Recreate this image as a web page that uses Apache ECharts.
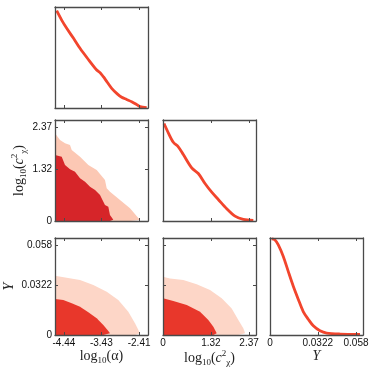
<!DOCTYPE html>
<html><head><meta charset="utf-8">
<script src="https://cdn.jsdelivr.net/npm/echarts@6/dist/echarts.min.js"></script>
<style>html,body{margin:0;padding:0;background:#fff}#c{width:374px;height:374px}</style>
</head><body><div id="c"></div>
<script>
// ---- axis ranges & ticks ----
const alphaRange = [-4.68, -2.17];
const cRange = [0, 2.56];
const yRange = [0, 0.0627];
const alphaTicks = [-4.44, -3.43, -2.41];
const cTicks = [0, 1.32, 2.37];
const yTicks = [0, 0.0322, 0.058];

// ---- 1D marginals (normalised) ----
const alphaPdfX = [-4.634, -4.50, -4.364, -4.18, -4.005, -3.80, -3.555, -3.45, -3.376, -3.26, -3.150, -3.00, -2.880, -2.75, -2.610, -2.50, -2.386, -2.205];
const alphaPdfY = [0.963, 0.870, 0.789, 0.690, 0.591, 0.490, 0.376, 0.345, 0.310, 0.250, 0.195, 0.140, 0.106, 0.085, 0.063, 0.040, 0.013, 0.003];
const cPdfX = [0.028, 0.146, 0.284, 0.421, 0.559, 0.790, 0.972, 1.156, 1.341, 1.522, 1.754, 1.982, 2.211, 2.486];
const cPdfY = [0.965, 0.873, 0.780, 0.735, 0.658, 0.526, 0.470, 0.371, 0.285, 0.213, 0.121, 0.048, 0.015, 0.005];
const yPdfX = [0.00115, 0.00337, 0.0056, 0.00897, 0.0123, 0.0157, 0.0191, 0.0224, 0.0258, 0.0292, 0.0337, 0.0382, 0.0472, 0.0607];
const yPdfY = [0.990, 0.980, 0.929, 0.810, 0.656, 0.503, 0.367, 0.242, 0.163, 0.095, 0.044, 0.020, 0.010, 0.007];

// ---- 2D credible regions: upper boundaries ----
// alpha vs c
const acOuterX = [-4.68, -4.545, -4.410, -4.275, -4.229, -4.005, -3.781, -3.555, -3.331, -3.285, -3.196, -2.926, -2.656, -2.386, -2.38];
const acOuterY = [2.223, 2.053, 1.970, 1.927, 1.800, 1.630, 1.420, 1.293, 1.039, 0.829, 0.743, 0.532, 0.322, 0.025, 0];
const acInnerX = [-4.68, -4.499, -4.410, -4.275, -4.140, -4.005, -3.870, -3.735, -3.600, -3.465, -3.331, -3.241, -3.196, -3.106, -3.10];
const acInnerY = [1.673, 1.630, 1.420, 1.311, 1.250, 1.082, 0.996, 0.870, 0.786, 0.659, 0.406, 0.363, 0.152, 0.033, 0];
// alpha vs Y
const ayOuterX = [-4.68, -4.365, -4.005, -3.646, -3.285, -2.972, -2.702, -2.521, -2.386, -2.38];
const ayOuterY = [0.0383, 0.0370, 0.0355, 0.0323, 0.0280, 0.0226, 0.0151, 0.0076, 0.0011, 0];
const ayInnerX = [-4.68, -4.456, -4.229, -4.005, -3.781, -3.555, -3.376, -3.241, -3.196, -3.19];
const ayInnerY = [0.0233, 0.0226, 0.0205, 0.0183, 0.0147, 0.0108, 0.0065, 0.0026, 0.0011, 0];
// c vs Y
const cyOuterX = [0, 0.193, 0.559, 0.927, 1.294, 1.616, 1.891, 2.074, 2.211, 2.26, 2.27];
const cyOuterY = [0.0377, 0.0366, 0.0355, 0.0328, 0.0291, 0.0237, 0.0172, 0.0097, 0.0043, 0.0011, 0];
const cyInnerX = [0, 0.284, 0.653, 1.019, 1.248, 1.386, 1.478, 1.49];
const cyInnerY = [0.0237, 0.0220, 0.0194, 0.0151, 0.0097, 0.0054, 0.0011, 0];

const zip = (a, b) => a.map((v, i) => [v, b[i]]);

const colL = [55, 163, 270], colW = 93;
const rowT = [7, 120, 238], rowH = [101, 101, 97];

const FRAME = '#4a4a4a';
const lblStyle = {fontFamily: 'Liberation Sans', fontSize: 10, color: '#111', margin: 3};
const serif = 'Liberation Serif';
const nameRich = {
  b: {fontFamily: serif, fontSize: 14, color: '#222', lineHeight: 18, verticalAlign: 'middle'},
  i: {fontFamily: serif, fontSize: 14, color: '#222', fontStyle: 'italic', lineHeight: 18, verticalAlign: 'middle'},
  sub: {fontFamily: serif, fontSize: 9, color: '#222', lineHeight: 18, verticalAlign: 'bottom'},
  sup: {fontFamily: serif, fontSize: 9, color: '#222', lineHeight: 18, verticalAlign: 'top'},
};
const NAME_ALPHA = '{b|log}{sub|10}{b|(α)}';
const NAME_C = '{b|log}{sub|10}{b|(}{i|c}{sup|2}{sub|χ}{b|)}';
const NAME_Y = '{i|Y}';

const grids = [], xAxes = [], yAxes = [], series = [];

function fmt(v) { return String(v); }

function addPanel(row, col, xr, xt, yr, yt, opts) {
  const gi = grids.length;
  grids.push({left: colL[col], top: rowT[row], width: colW, height: rowH[row], containLabel: false});
  const tick = (vals) => ({show: !!vals, inside: true, length: 3, lineStyle: {color: FRAME, width: 1}, customValues: vals || undefined});
  const base = {gridIndex: gi, type: 'value', splitLine: {show: false}, z: 10,
    axisLine: {show: true, onZero: false, lineStyle: {color: FRAME, width: 1.3}}};
  xAxes.push(Object.assign({}, base, {min: xr[0], max: xr[1], position: 'bottom',
    axisTick: tick(xt),
    axisLabel: opts.xLabels ? Object.assign({show: true, customValues: xt, formatter: fmt}, lblStyle) : {show: false},
    name: opts.xName || '', nameLocation: 'middle', nameGap: 9,
    nameTextStyle: {rich: nameRich}}));
  xAxes.push(Object.assign({}, base, {min: xr[0], max: xr[1], position: 'top',
    axisTick: tick(xt), axisLabel: {show: false}}));
  yAxes.push(Object.assign({}, base, {min: yr[0], max: yr[1], position: 'left',
    axisTick: tick(yt),
    axisLabel: opts.yLabels ? Object.assign({show: true, customValues: yt, formatter: fmt}, lblStyle) : {show: false},
    name: opts.yName || '', nameLocation: 'middle', nameGap: opts.yGap || 28, nameRotate: 90,
    nameTextStyle: {rich: nameRich}}));
  yAxes.push(Object.assign({}, base, {min: yr[0], max: yr[1], position: 'right',
    axisTick: tick(yt), axisLabel: {show: false}}));
  return {xi: xAxes.length - 2, yi: yAxes.length - 2};
}

function curve(p, x, y) {
  series.push({type: 'line', xAxisIndex: p.xi, yAxisIndex: p.yi, data: zip(x, y),
    symbol: 'none', smooth: 0.3, lineStyle: {color: '#F2452D', width: 2.8}, z: 3});
}
function region(p, x, y, color) {
  series.push({type: 'line', xAxisIndex: p.xi, yAxisIndex: p.yi, data: zip(x, y),
    symbol: 'none', lineStyle: {width: 0}, areaStyle: {color: color, opacity: 1, origin: 'start'}, z: 2});
}

const pdfR = [0, 1.0];
const p00 = addPanel(0, 0, alphaRange, alphaTicks, pdfR, null, {});
curve(p00, alphaPdfX, alphaPdfY);

const p10 = addPanel(1, 0, alphaRange, alphaTicks, cRange, cTicks, {yLabels: true, yName: NAME_C, yGap: 24});
region(p10, acOuterX, acOuterY, '#FCC8B4');
region(p10, acInnerX, acInnerY, '#D62529');

const p11 = addPanel(1, 1, cRange, cTicks, pdfR, null, {});
curve(p11, cPdfX, cPdfY);

const p20 = addPanel(2, 0, alphaRange, alphaTicks, yRange, yTicks, {xLabels: true, yLabels: true, xName: NAME_ALPHA, yName: NAME_Y, yGap: 37});
region(p20, ayOuterX, ayOuterY, '#FDD6C7');
region(p20, ayInnerX, ayInnerY, '#E8372B');

const p21 = addPanel(2, 1, cRange, cTicks, yRange, yTicks, {xLabels: true, xName: NAME_C});
region(p21, cyOuterX, cyOuterY, '#FDD6C7');
region(p21, cyInnerX, cyInnerY, '#E8372B');

const p22 = addPanel(2, 2, yRange, yTicks, pdfR, null, {xLabels: true, xName: NAME_Y});
curve(p22, yPdfX, yPdfY);

const chart = echarts.init(document.getElementById('c'), null, {renderer: 'canvas'});
chart.setOption({animation: false, backgroundColor: '#fff', grid: grids, xAxis: xAxes, yAxis: yAxes, series: series});
</script></body></html>
